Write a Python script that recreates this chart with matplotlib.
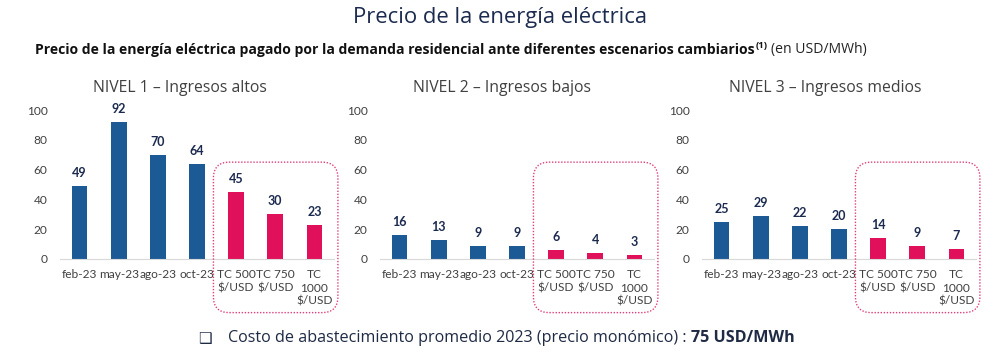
import matplotlib
matplotlib.use("Agg")
import matplotlib.pyplot as plt
from matplotlib.patches import FancyBboxPatch
from matplotlib.transforms import IdentityTransform

# data
categorias = ["feb-23", "may-23", "ago-23", "oct-23",
              "TC 500\n$/USD", "TC 750\n$/USD", "TC\n1000\n$/USD"]
nivel1 = [49, 92, 70, 64, 45, 30, 23]
nivel2 = [16, 13, 9, 9, 6, 4, 3]
nivel3 = [25, 29, 22, 20, 14, 9, 7]
titulos = ["NIVEL 1 \u2013 Ingresos altos", "NIVEL 2 \u2013 Ingresos bajos",
           "NIVEL 3 \u2013 Ingresos medios"]
n_hist = 4  # first 4 bars are historical, rest are scenarios

AZUL = "#1c5a96"
ROSA = "#e0105a"
NAVY = "#1b2a4e"
GRIS = "#404040"
HEAD = ["Open Sans", "DejaVu Sans"]
AXF = ["Lato", "DejaVu Sans"]

plt.rcParams['font.family'] = HEAD

fig = plt.figure(figsize=(10, 3.56), dpi=100)

lefts = [0.060, 0.380, 0.702]
series = [nivel1, nivel2, nivel3]
axes = []
for left, vals, tit in zip(lefts, series, titulos):
    ax = fig.add_axes([left, 0.2725, 0.274, 0.4185])
    x = range(len(vals))
    cols = [AZUL] * n_hist + [ROSA] * (len(vals) - n_hist)
    ax.bar(x, vals, width=0.4, color=cols, zorder=2)
    for xi, v in zip(x, vals):
        ax.annotate(str(v), (xi, v), xytext=(0, 5), textcoords="offset points",
                    ha="center", va="bottom", fontsize=9, fontweight="bold",
                    color=NAVY, family=AXF, clip_on=False)
    ax.set_xlim(-0.5, len(vals) - 0.5)
    ax.set_ylim(0, 100)
    ax.set_yticks(range(0, 101, 20))
    ax.set_xticks(list(x))
    ax.set_xticklabels(categorias, linespacing=1.25)
    for lab in ax.get_xticklabels() + ax.get_yticklabels():
        lab.set_family(AXF)
        lab.set_fontsize(8.6)
        lab.set_color(GRIS)
    ax.tick_params(length=0)
    ax.tick_params(axis="x", pad=7.5)
    ax.tick_params(axis="y", pad=9)
    for s in ["top", "right", "left"]:
        ax.spines[s].set_visible(False)
    ax.spines["bottom"].set_color("#d9d9d9")
    ax.set_facecolor("none")
    axes.append(ax)

# panel titles
for ax, tit, cx in zip(axes, titulos, [0.180, 0.502, 0.825]):
    fig.text(cx, 0.753, tit, ha="center", va="center", fontsize=11.3, color=GRIS)

# dotted rounded boxes around the scenario bars
fig.canvas.draw()
for ax in axes:
    x0, y0 = ax.transData.transform((3.42, -36))
    x1, y1 = ax.transData.transform((6.6, 65))
    box = FancyBboxPatch((x0, y0), x1 - x0, y1 - y0,
                         boxstyle="round,pad=0,rounding_size=16",
                         transform=IdentityTransform(), fill=False,
                         edgecolor="#e0407a", lw=1.0, ls=(0, (1, 1.2)))
    fig.add_artist(box)

# titles
fig.text(0.5, 0.952, "Precio de la energ\u00eda el\u00e9ctrica", ha="center",
         va="center", fontsize=15.8, color=NAVY)

r = fig.canvas.get_renderer()
t1 = fig.text(0.035, 0.86, "Precio de la energ\u00eda el\u00e9ctrica pagado por la demanda "
              "residencial ante diferentes escenarios cambiarios",
              ha="left", va="center", fontsize=10.1, fontweight="bold", color="#111111")
bb = t1.get_window_extent(r)
t2 = fig.text(bb.x1 / 1000 + 0.001, 0.872, "(1)", ha="left", va="center",
              fontsize=6.8, fontweight="bold", color="#111111")
bb2 = t2.get_window_extent(r)
fig.text(bb2.x1 / 1000 + 0.003, 0.86, "(en USD/MWh)", ha="left", va="center",
         fontsize=10.1, color="#222222")

# bottom note
fig.text(0.198, 0.05, "\u2751", ha="left", va="center", fontsize=11,
         color="#1f2a44", family=["DejaVu Sans"])
t3 = fig.text(0.228, 0.05, "Costo de abastecimiento promedio 2023 (precio mon\u00f3mico) : ",
              ha="left", va="center", fontsize=11.6, color="#1f2a44")
bb3 = t3.get_window_extent(r)
fig.text(bb3.x1 / 1000, 0.05, "75 USD/MWh", ha="left", va="center",
         fontsize=11.6, fontweight="bold", color="#1f2a44")

fig.savefig("out.png", dpi=100, facecolor="white")
